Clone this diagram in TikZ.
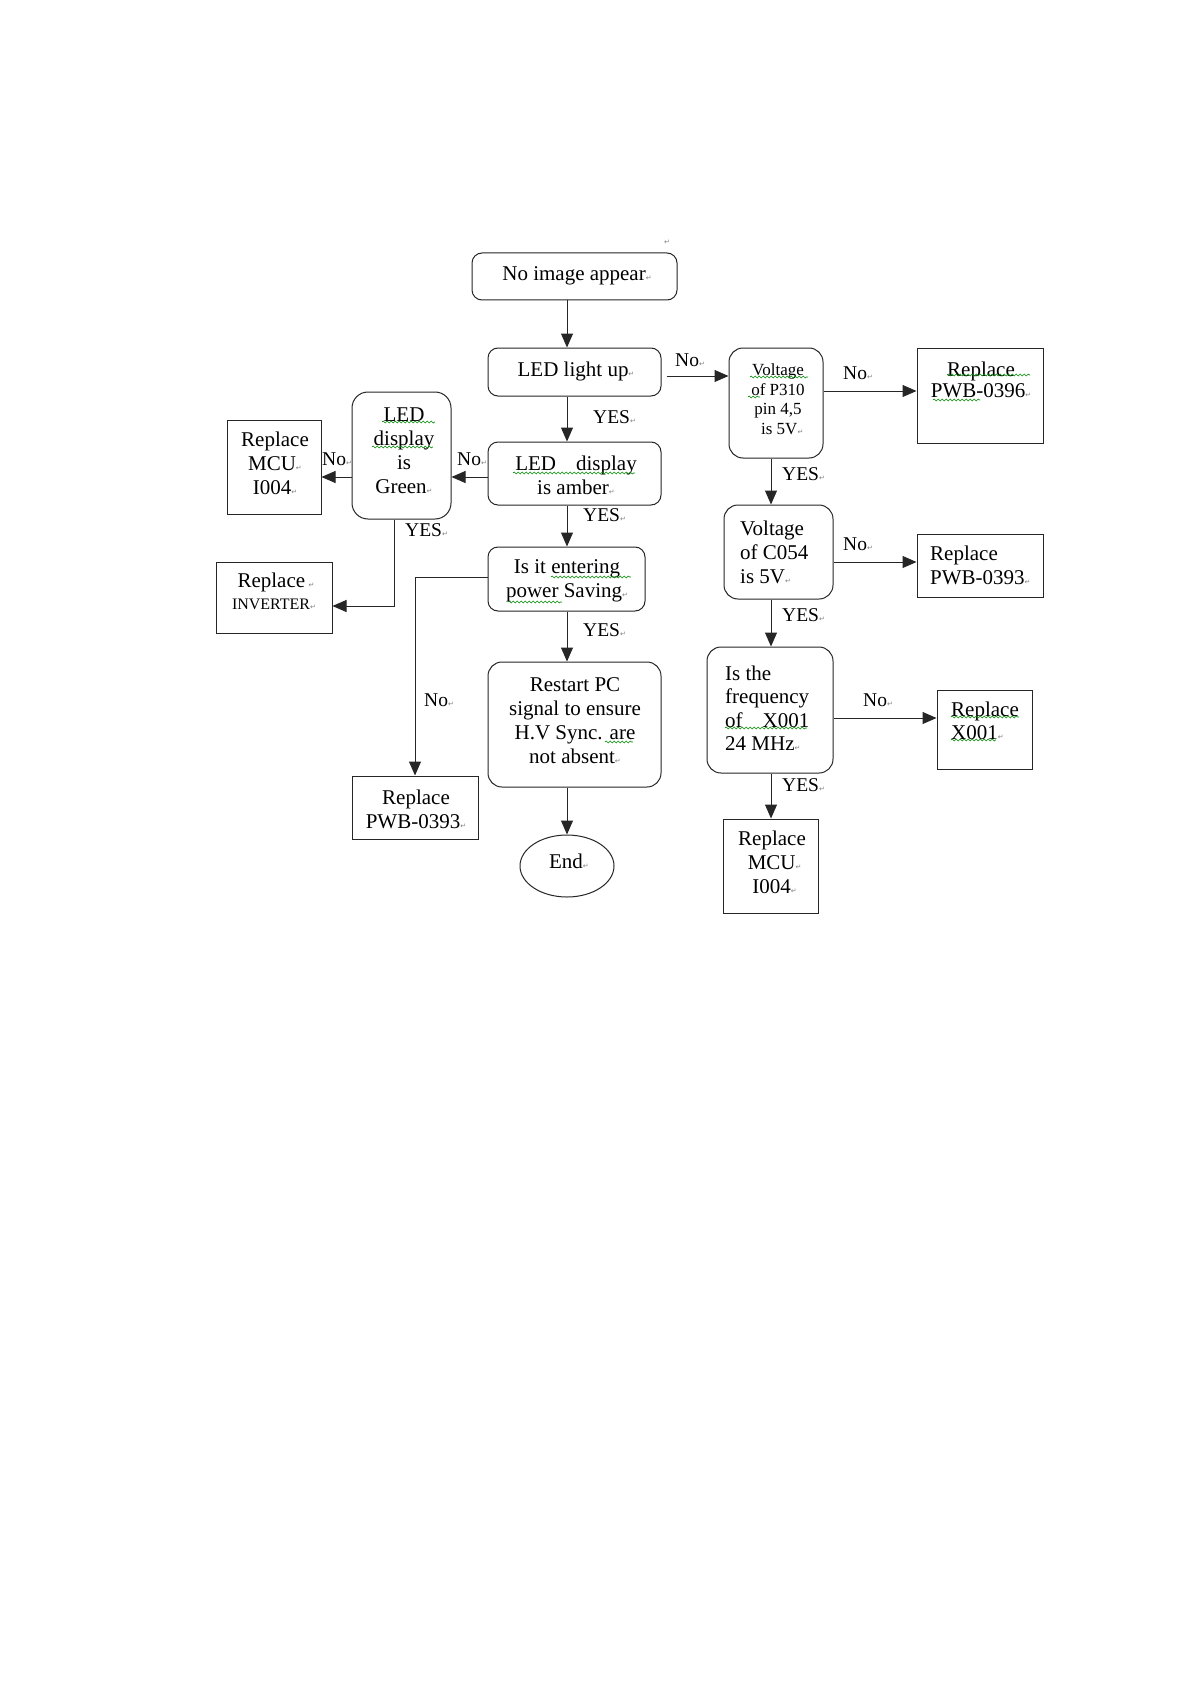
\documentclass[tikz,border=0pt]{standalone}
\usepackage{fontspec}
\setmainfont{Liberation Serif}
\newfontfamily\symf{DejaVu Sans}
\usetikzlibrary{fit,arrows.meta,decorations.pathmorphing,shapes.geometric}
\newcommand{\retmark}{{\symf\fontsize{7}{7}\selectfont\textcolor{black!50}{↵}}}
\tikzset{
  rbox/.style={draw=black!85, line width=1pt, rounded corners=10pt, inner sep=0pt},
  rboxb/.style={rbox, rounded corners=14pt},
  sbox/.style={draw=black!85, line width=1pt, inner sep=0pt},
  txt/.style={inner sep=0pt, font=\fontsize{21}{24}\selectfont, align=center},
  txtl/.style={txt, align=left, anchor=west},
  smalltxt/.style={inner sep=0pt, font=\fontsize{17}{19.5}\selectfont, align=center},
  lbl/.style={inner sep=0pt, anchor=west, font=\fontsize{19.5}{22}\selectfont},
  arr/.style={draw=black!85, line width=1pt, -{Triangle[length=14pt,width=12pt]}},
  wavy/.style={draw=green!55!black, line width=0.6pt, decorate,
    decoration={snake, segment length=4pt, amplitude=1pt}},
}
\begin{document}
\begin{tikzpicture}[x=1pt,y=-1pt]
\fill[white] (0,0) rectangle (1191,1685);
\useasboundingbox (0,0) rectangle (1191,1685);

% ---------- boxes ----------
\node[rbox, fit={(472,253)(677,300)}] (start) {};
\node[rbox, fit={(488,348)(661,396)}] (led) {};
\node[rbox, fit={(488,442)(661,505)}] (amber) {};
\node[rbox, fit={(488,547)(645,611)}] (saving) {};
\node[rboxb, fit={(488,662)(661,787)}] (restart) {};
\node[draw=black!85, line width=1pt, ellipse, inner sep=0pt,
      minimum width=94pt, minimum height=62pt] (endn) at (567,866) {};
\node[rboxb, rounded corners=16pt, fit={(352,392)(451,519)}] (green) {};
\node[sbox, fit={(227,420)(321,514)}] (mcuL) {};
\node[sbox, fit={(216,562)(332,633)}] (inv) {};
\node[sbox, fit={(352,776)(478,839)}] (pwbL) {};
\node[rboxb, fit={(729,348)(823,458)}] (p310) {};
\node[sbox, fit={(917,348)(1043,443)}] (pwb96) {};
\node[rboxb, fit={(724,505)(833,599)}] (c054) {};
\node[sbox, fit={(917,534)(1043,597)}] (pwbR) {};
\node[rboxb, fit={(707,647)(833,773)}] (freq) {};
\node[sbox, fit={(937,690)(1032,769)}] (x001) {};
\node[sbox, fit={(723,819)(818,913)}] (mcuB) {};

% ---------- texts ----------
\node[inner sep=0pt] (topmark) at (667,242) {\retmark};
\node[txt] (t-start) at (577,276) {No image appear\retmark};
\node[txt] (t-led) at (576,371) {LED light up\retmark};
\node[txt] (t-amber) at (576,475) {LED\hspace{20pt}display\\is amber\retmark};
\node[txt] (t-saving) at (567,581) {Is it entering\\power Saving\retmark};
\node[txt] (t-restart) at (575,721) {Restart PC\\signal to ensure\\H.V Sync. are\\not absent\retmark};
\node[txt] (t-end) at (569,861) {End\retmark};
\node[txt] (t-green) at (404,451) {LED\\display\\is\\Green\retmark};
\node[txt] (t-mcuL) at (275,463) {Replace\\MCU\retmark\\I004\retmark};
\node[txt] (t-inv1) at (276,582) {Replace\,\retmark};
\node[inner sep=0pt, font=\fontsize{16}{18}\selectfont] (t-inv2) at (274,604) {INVERTER\retmark};
\node[txt] (t-pwbL) at (416,809) {Replace\\PWB-0393\retmark};
\node[smalltxt] (t-p310) at (778,399) {Voltage\\of P310\\pin 4,5\\\ \ is 5V\retmark};
\node[txt, font=\fontsize{21}{21.5}\selectfont] (t-pwb96) at (981,380) {Replace\\PWB-0396\retmark};
\node[txtl] (t-c054) at (740,552) {Voltage\\of C054\\is 5V\retmark};
\node[txtl] (t-pwbR) at (930,565) {Replace\\PWB-0393\retmark};
\node[txtl, font=\fontsize{21}{23.5}\selectfont] (t-freq) at (725,708) {Is the\\frequency\\of\hspace{20pt}X001\\24 MHz\retmark};
\node[txtl, font=\fontsize{21}{23}\selectfont] (t-x001) at (951,721) {Replace\\X001\retmark};
\node[txt] (t-mcuB) at (772,862) {Replace\\\ MCU\retmark\\\ I004\retmark};

% ---------- spell-check underlines ----------
\draw[wavy] (382,422) -- (435,422);
\draw[wavy] (372,447) -- (433,447);
\draw[wavy] (513,473) -- (635,473);
\draw[wavy] (551,577) -- (631,577);
\draw[wavy] (508,602) -- (562,602);
\draw[wavy] (605,742) -- (633,742);
\draw[wavy] (750,377) -- (808,377);
\draw[wavy] (748,397) -- (760,397);
\draw[wavy] (947,375) -- (1030,375);
\draw[wavy] (933,400) -- (980,400);
\draw[wavy] (725,728) -- (807,728);
\draw[wavy] (951,717) -- (1019,717);
\draw[wavy] (951,740) -- (996,740);

% ---------- connectors ----------
\coordinate (cx) at (567,0);
\coordinate (rx) at (771,0);
\draw[arr] (start.south -| cx) -- (led.north -| cx);
\draw[arr] (led.south -| cx) -- (amber.north -| cx);
\draw[arr] (amber.south -| cx) -- (saving.north -| cx);
\draw[arr] (saving.south -| cx) -- (restart.north -| cx);
\draw[arr] (restart.south -| cx) -- (endn.north);

\coordinate (ya) at (0,477);
\draw[arr] (amber.west |- ya) -- (green.east |- ya);
\draw[arr] (green.west |- ya) -- (mcuL.east |- ya);
\coordinate (gx) at (394,0);
\coordinate (yi) at (0,606);
\draw[arr] (green.south -| gx) |- (inv.east |- yi);
\coordinate (ys) at (0,577);
\coordinate (lx) at (415,0);
\draw[arr] (saving.west |- ys) -| (pwbL.north -| lx);

\coordinate (yl) at (0,376);
\draw[arr, shorten <=5pt] (led.east |- yl) -- (p310.west |- yl);
\coordinate (yp) at (0,391);
\draw[arr] (p310.east |- yp) -- (pwb96.west |- yp);
\draw[arr] (p310.south -| rx) -- (c054.north -| rx);
\coordinate (yc) at (0,562);
\draw[arr] (c054.east |- yc) -- (pwbR.west |- yc);
\draw[arr] (c054.south -| rx) -- (freq.north -| rx);
\coordinate (yf) at (0,718);
\draw[arr] (freq.east |- yf) -- (x001.west |- yf);
\draw[arr] (freq.south -| rx) -- (mcuB.north -| rx);

% ---------- connector labels ----------
\node[lbl] (l1) at (593,417) {YES\retmark};
\node[lbl] (l2) at (583,515) {YES\retmark};
\node[lbl] (l3) at (583,630) {YES\retmark};
\node[lbl] (l4) at (405,530) {YES\retmark};
\node[lbl] (l5) at (457,459) {No\retmark};
\node[lbl] (l6) at (322,459) {No\retmark};
\node[lbl] (l7) at (424,700) {No\retmark};
\node[lbl] (l8) at (675,360) {No\retmark};
\node[lbl] (l9) at (843,373) {No\retmark};
\node[lbl] (l10) at (782,474) {YES\retmark};
\node[lbl] (l11) at (843,544) {No\retmark};
\node[lbl] (l12) at (782,615) {YES\retmark};
\node[lbl] (l13) at (863,700) {No\retmark};
\node[lbl] (l14) at (782,785) {YES\retmark};
\end{tikzpicture}
\end{document}
